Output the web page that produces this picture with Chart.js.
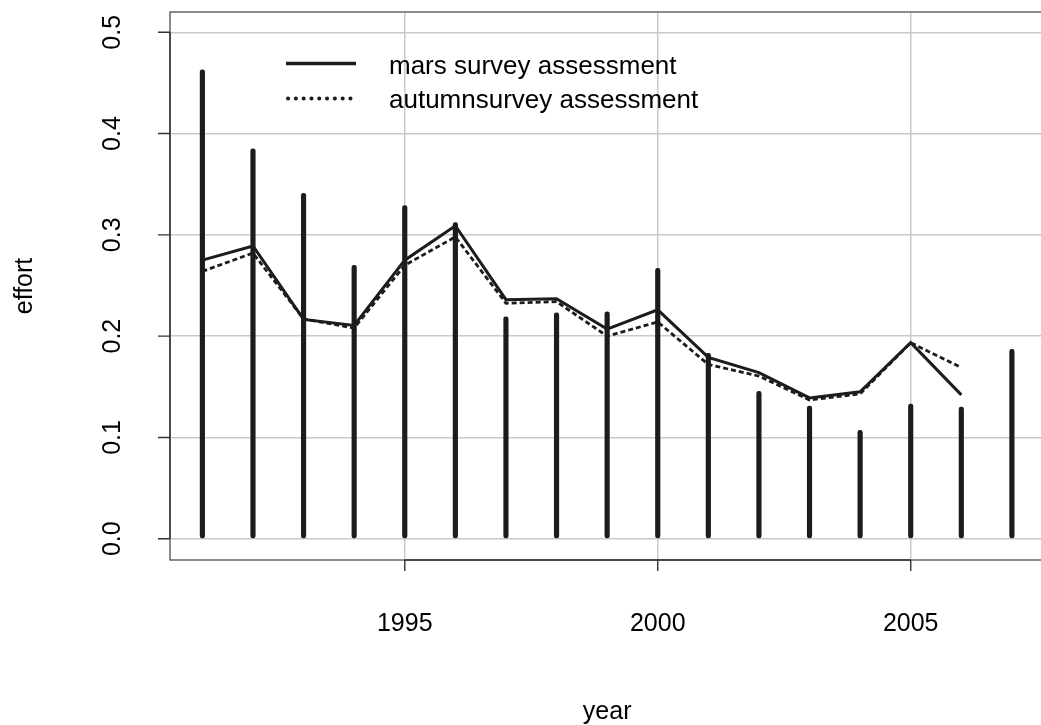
<!DOCTYPE html>
<html>
<head>
<meta charset="utf-8">
<script src="https://cdn.jsdelivr.net/npm/chart.js@4/dist/chart.umd.min.js"></script>
<style>
  html, body { margin: 0; padding: 0; background: #fff; overflow: hidden; }
  canvas { display: block; }
</style>
</head>
<body>
<canvas id="c" width="1041" height="725"></canvas>
<script>
// ---- data ----
const years = [1991,1992,1993,1994,1995,1996,1997,1998,1999,2000,2001,2002,2003,2004,2005,2006,2007];
const effortBars = [0.463,0.385,0.341,0.270,0.329,0.312,0.219,0.223,0.224,0.267,0.183,0.1455,0.131,0.107,0.133,0.130,0.187];
const lineYears = [1991,1992,1993,1994,1995,1996,1997,1998,1999,2000,2001,2002,2003,2004,2005,2006];
const marsValues = [0.275,0.289,0.2165,0.2105,0.275,0.309,0.236,0.237,0.207,0.226,0.179,0.164,0.139,0.145,0.1935,0.142];
const autumnValues = [0.264,0.282,0.217,0.208,0.270,0.298,0.2325,0.234,0.200,0.214,0.172,0.1606,0.137,0.143,0.1935,0.169];
const xTicks = [1995, 2000, 2005];
const xTickLabels = ['1995', '2000', '2005'];
const yTicks = [0, 0.1, 0.2, 0.3, 0.4, 0.5];
const yTickLabels = ['0.0', '0.1', '0.2', '0.3', '0.4', '0.5'];
const legendLabels = ['mars survey assessment', 'autumnsurvey assessment'];
const xTitle = 'year';
const yTitle = 'effort';

const INK = '#1e1b1c';
const FONT = '"Liberation Sans", Arial, Helvetica, sans-serif';

const framePlugin = {
  id: 'frame',
  afterDraw(chart) {
    const ctx = chart.ctx;
    const a = chart.chartArea;
    const xs = chart.scales.x, ys = chart.scales.y;
    ctx.save();
    // box
    ctx.strokeStyle = '#5a5a5a';
    ctx.lineWidth = 1.4;
    ctx.strokeRect(a.left, a.top, a.right + 10 - a.left, a.bottom - a.top);
    // axis lines (from first to last tick) + ticks
    ctx.strokeStyle = '#333';
    ctx.lineWidth = 1.4;
    ctx.beginPath();
    const y0 = ys.getPixelForValue(yTicks[0]), y1 = ys.getPixelForValue(yTicks[yTicks.length-1]);
    ctx.moveTo(a.left, y0); ctx.lineTo(a.left, y1);
    yTicks.forEach(v => { const p = ys.getPixelForValue(v); ctx.moveTo(a.left - 12, p); ctx.lineTo(a.left, p); });
    const x0 = xs.getPixelForValue(xTicks[0]), x1 = xs.getPixelForValue(xTicks[xTicks.length-1]);
    ctx.moveTo(x0, a.bottom); ctx.lineTo(x1, a.bottom);
    xTicks.forEach(v => { const p = xs.getPixelForValue(v); ctx.moveTo(p, a.bottom); ctx.lineTo(p, a.bottom + 11); });
    ctx.stroke();

    // tick labels
    ctx.fillStyle = '#000';
    ctx.font = '25px ' + FONT;
    ctx.textAlign = 'center';
    ctx.textBaseline = 'alphabetic';
    xTicks.forEach((v, i) => { ctx.fillText(xTickLabels[i], xs.getPixelForValue(v), 631); });
    yTicks.forEach((v, i) => {
      ctx.save();
      ctx.translate(120, ys.getPixelForValue(v));
      ctx.rotate(-Math.PI / 2);
      ctx.fillText(yTickLabels[i], 0, 0);
      ctx.restore();
    });
    // axis titles
    ctx.fillText(xTitle, (a.left + xs.getPixelForValue(2007.64)) / 2, 719);
    ctx.save();
    ctx.translate(32, (a.top + a.bottom) / 2);
    ctx.rotate(-Math.PI / 2);
    ctx.fillText(yTitle, 0, 0);
    ctx.restore();

    // legend
    ctx.strokeStyle = INK;
    ctx.lineWidth = 3.5;
    ctx.lineCap = 'butt';
    ctx.beginPath(); ctx.moveTo(286, 63.5); ctx.lineTo(356, 63.5); ctx.stroke();
    ctx.lineWidth = 4;
    ctx.lineCap = 'round';
    ctx.setLineDash([0.1, 7.7]);
    ctx.beginPath(); ctx.moveTo(288, 98.5); ctx.lineTo(355, 98.5); ctx.stroke();
    ctx.setLineDash([]);
    ctx.font = '26px ' + FONT;
    ctx.textAlign = 'left';
    ctx.fillStyle = '#000';
    ctx.fillText(legendLabels[0], 389, 74);
    ctx.fillText(legendLabels[1], 389, 107.5);
    ctx.restore();
  }
};

const gridOpts = { color: '#c9c9c9', lineWidth: 1.5, drawTicks: false, offset: false };

new Chart(document.getElementById('c'), {
  type: 'bar',
  data: {
    datasets: [
      {
        type: 'line',
        label: legendLabels[0],
        data: lineYears.map((y, i) => ({ x: y, y: marsValues[i] })),
        borderColor: INK, borderWidth: 3, pointRadius: 0, tension: 0, fill: false,
        order: 1
      },
      {
        type: 'line',
        label: legendLabels[1],
        data: lineYears.map((y, i) => ({ x: y, y: autumnValues[i] })),
        borderColor: INK, borderWidth: 2.8, borderDash: [5, 3], pointRadius: 0, tension: 0, fill: false,
        order: 2
      },
      {
        type: 'bar',
        label: 'effort',
        data: years.map((y, i) => ({ x: y, y: effortBars[i] })),
        backgroundColor: INK, borderWidth: 0, barThickness: 4.5,
        borderRadius: 2.2, borderSkipped: false,
        order: 3
      }
    ]
  },
  options: {
    responsive: false,
    animation: false,
    devicePixelRatio: 1,
    layout: { padding: { left: 170, top: 12, right: 0, bottom: 165 } },
    plugins: { legend: { display: false }, tooltip: { enabled: false } },
    scales: {
      x: {
        type: 'linear', min: 1990.36, max: 2007.575, offset: false,
        afterBuildTicks: s => { s.ticks = xTicks.map(v => ({ value: v })); },
        afterFit: s => { s.height = 0; },
        ticks: { display: false },
        border: { display: false },
        grid: gridOpts
      },
      y: {
        type: 'linear', min: -0.021, max: 0.52,
        afterBuildTicks: s => { s.ticks = yTicks.map(v => ({ value: v })); },
        afterFit: s => { s.width = 0; },
        ticks: { display: false },
        border: { display: false },
        grid: { color: '#c9c9c9', lineWidth: 1.5, drawTicks: false }
      }
    }
  },
  plugins: [framePlugin]
});
</script>
</body>
</html>
